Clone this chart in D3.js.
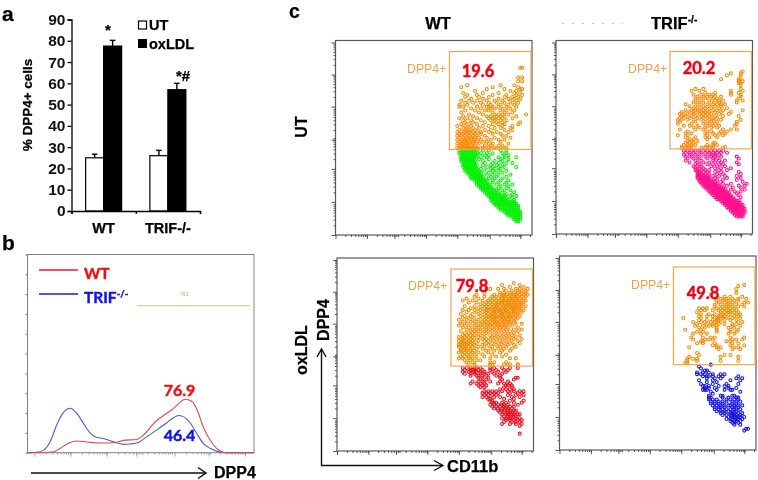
<!DOCTYPE html>
<html><head><meta charset="utf-8">
<script src="https://cdn.jsdelivr.net/npm/d3@7"></script>
<style>
html,body{margin:0;padding:0;background:#fff}
svg{display:block;filter:blur(0.3px)}
text{font-family:"Liberation Sans",Arial,sans-serif}
.num{font-family:Lato,"Open Sans",sans-serif;font-weight:700;stroke-width:.45px;paint-order:stroke}
.b{stroke:#000;stroke-width:.25px}
</style></head><body>
<svg id="c" width="758" height="480"></svg>
<script>
// ---------- panel a ----------
const barGroups=["WT","TRIF-/-"];
const barSeries=["UT","oxLDL"];
const utValues=[25,26];
const oxldlValues=[77.5,57];
const utErrors=[26.7,28.5];
const oxldlErrors=[80.2,60];
const barTicks=[0,10,20,30,40,50,60,70,80,90];
// ---------- panel b (channel, count) ----------
const histRedX=[0,5.6,11.5,14.4,17.4,21.8,26.2,32,38,42.4,48.2,51.9,56.3,60.7,64.4,67.4,69.6,72.5,74.7,77.6,80.6,83.5,87.9,100];
const histRedY=[0,0,.5,2.2,4.4,5.9,5.4,4.9,5,6.2,6.7,9.7,15.5,19.3,22.2,25.5,27,26,22.2,13,6.4,2.2,0,0];
const histBlueX=[0,4.1,7.1,10,12.9,15.9,18.8,21.8,24.7,27.6,30.6,33.5,36.5,39.4,42.4,45.3,49,52.6,57,61.5,64.4,66.6,68.8,71.8,74.7,77.6,80.6,83.5,87.9,100];
const histBlueY=[0,.2,1.3,5.5,14,20.3,22.4,19.8,14.8,10,7.7,7.2,6,5,4.2,4.4,5.2,8,11.4,15.1,17.6,18.8,18.2,15.1,9.7,4.7,2.2,.8,0,0];
const histYTicks=[0,10,20,30,40,50,60,70,80,90,100];
const histXDecades=[3,19,35,48,65,80,96];
// ---------- panel c ticks ----------
const flowXDecades=[0,16,30,46,62,78.5,94];
const flowYDecades=[0,17,34,49,66,82.5,99];
const flowMinor=[5,7.9,10,11.6,12.9,14,15,15.8];
// ---------- panel c events: each row is [DPP4 channel, CD11b channels...] ----------
const wtUtHigh=[[86,94,95],[81,93,95],[79,93,95],[77,67,84,91],[76,64,80,93],[75,77,86,94,95],[74,71,89,92],[73,65,75,83,91,94],[72,67,72,80,87,92,95],[71,66,73,78,86,90,93],[70,69,75,83,88,91,94],[69,64,68,72,77,81,85,89,92],[68,66,70,74,78,82,86,90,93],[67,63,67,75,79,84,88,91],[66,63,65,72,77,78,80,83,87,92],[65,69,74,79,81,85,89],[64,66,71,76,78,84,87,91],[63,64,73,80,86,90],[62,68,75,81,83,85,88,97],[61,65,70,77,79,82,84,86,92],[60,63,67,72,78,80,81,83,85,90],[59,65,69,74,79,81,84,87],[58,66,70,76,82,85,94],[57,64,68,72,80,83,86,93],[56,62,66,69,75,78,85,90],[55,65,67,70,73,81,84,89],[54,63,66,68,71,76,79,86,90],[53,62,64,66,68,70,72,74,78,82,88],[52,63,65,67,69,71,74,80,84],[51,62,64,66,68,70,72,76,85,87],[50,63,65,67,69,71,73,77,81,89],[49,62,64,66,67,69,71,74,79,83,86],[48,63,65,66,68,70,72,75,77,84],[47,62,64,65,67,68,70,73,78,80,88],[46,63,64,66,67,69,71,76,79,83,85],[45,62,64,65,67,68,70,72,75,78,81,84,87],[44.6,63,64,65,66,67,68,69,70,71,72,74,76,79,82,86]];
const wtUtLow=[[43.5,63,64,65,66,67,68,69,70,71,72,75,78,84,87],[42,63,64,65,66,67,68,69,70,71,72,74,77,80,85,87],[41,64,65,66,67,68,69,70,71,72,76,78,86,88],[40,64,65,66,67,68,69,70,71,74,77,83,86,92],[39,64,65,66,67,68,69,70,73,78,84,88],[38,64,65,66,67,68,69,70,71,75,81,85],[37,65,66,67,68,69,70,71,76,80,83,87,90],[36,65,66,67,68,69,70,71,72,75,79,82,85],[35,65,66,67,68,69,70,71,77,80,83,86,92],[34,66,67,68,69,70,71,72,74,79,81,84],[33,66,67,68,69,70,71,72,73,76,80,83,87],[32,67,68,69,70,71,72,73,74,78,81,85],[31,68,69,70,71,72,73,74,77,80,83,89],[30,69,70,71,72,73,74,75,79,82,87],[29,69,70,71,72,73,74,75,78,81,85],[28,71,72,73,74,75,76,77,80,84,88],[27,72,73,74,75,76,77,80,83,87],[26,72,73,74,75,76,77,78,82,86,90],[25,73,74,75,76,77,78,79,84,88],[24,74,75,76,77,78,79,80,83,87],[23,75,76,77,78,79,80,81,82,85,89],[22,76,77,78,79,80,81,82,83,86,91],[21,77,78,79,80,81,82,83,84,87,90],[20,78,79,80,81,82,83,84,85,86,89,92],[19,79,80,81,82,83,84,85,86,87,90],[18,79,80,81,82,83,84,85,86,87,88,91],[17,80,81,82,83,84,85,86,87,88,89,90,91],[16,81,82,83,84,85,86,87,88,89,90,91,92],[15,82,83,84,85,86,87,88,89,90,91,92,93],[14,83,84,85,86,87,88,89,90,91,92,93],[13,84,85,86,87,88,89,90,91,92,93],[12,86,87,88,89,90,91,92,93,94],[11,87,88,89,90,91,92,93,94],[10,88,89,90,91,92,93,94],[9,90,91,92,93,94],[8,91,92,93,94],[7,92,93]];
const trifUtHigh=[[84,95],[83,89,94],[82,87,94],[80,84,93,94],[79,93,95],[78,93,94],[77,94],[75,71,75,94],[74,69,73,89,95],[73,76,81,89,93],[72,70,74,78,80,89,94],[71,72,75,77,79,81,84,94],[70,71,73,76,80,82,93],[69,71,74,78,81,83,85,92,95],[68,70,72,75,79,83,92],[67,66,73,77,80,82,84,86],[66,68,71,75,78,81,84],[65,70,72,74,76,79,83,87],[64,66,69,71,73,75,77,80,82,85,95],[63,64,68,70,72,74,76,78,81,84,89],[62,63,65,67,70,73,75,77,79,83,88],[61,64,66,69,71,74,76,78,81,85,93],[60,63,65,68,72,75,77,80,82],[59,62,64,67,70,74,78,80,84,94],[58,63,71,76,79,82,92],[57,62,69,75,78,81,92],[56,65,68,72,77,80,83,91],[55,70,73,76,79,82],[54,63,71,75,85,89,92],[53,67,77,79,84,87],[52,66,69,76,80,83,86],[51,62,67,77,81,85],[50,66,71,76,78,82],[49,68,70,77],[48,67,69,72],[47,66,68,70,80,81],[46,65,67,69,71,77,80,82],[45,64,67,69,76,78,80,86],[44.6,64,66,68,74,76,78,80,85]];
const trifUtLow=[[43,65,67,69,71,73,75,77,79,81,83,85],[42,66,68,70,73,76,78,80,82,84,87],[41,65,68,71,74,78,80,81,83],[40,66,69,72,76,79,81,84,92],[39,67,70,73,77,80,82,93],[38,66,71,74,80,83,86],[37,68,72,75,78,81,84,92],[36,71,73,77,80,83,85,93],[35,70,72,74,79,82,86],[34,71,73,75,81,84,89],[33,71,72,74,76,78,83,87],[32,72,73,75,77,81,84,93],[31,72,73,74,76,78,82,85,94],[30,72,73,74,75,76,77,80,83,86,92],[29,72,73,74,75,76,77,78,81,87,94],[28,73,74,75,76,77,78,79,82,85,92],[27,73,74,75,76,77,78,79,80,81,84,95],[26,74,75,76,77,78,79,80,81,82,85,89,97],[25,75,76,77,78,79,80,81,82,83,87,93,96],[24,76,77,78,79,80,81,82,83,84,85,90,94],[23,77,78,79,80,81,82,83,84,85,86,89,96],[22,78,79,80,81,82,83,84,85,86,87,91,94],[21,79,80,81,82,83,84,85,86,87,88,92],[20,80,81,82,83,84,85,86,87,88,89,93],[19,81,82,83,84,85,86,87,88,89,90,94],[18,82,83,84,85,86,87,88,89,90,91],[17,84,85,86,87,88,89,90,91,92,93],[16,85,86,87,88,89,90,91,92,93,94],[15,86,87,88,89,90,91,92,93,94,95],[14,87,88,89,90,91,92,93,94,95],[13,88,89,90,91,92,93,94,95,96],[12,89,90,91,92,93,94,95,96],[11,90,91,92,93,94,95,96],[10,91,92,93,94,95],[9,92,93,94,95]];
const wtOxHigh=[[87,90],[86,84,93],[85,88,95],[84,76,78,82,85,91,93,97],[83,86,89,92,94,96],[82,75,83,85,88,90,92,94,96],[81,71,80,83,85,86,88,90,91,93,95,97],[80,70,75,79,81,84,85,87,89,91,92,94,96],[79,66,72,78,80,82,84,86,88,89,91,93,95],[78,64,69,74,77,79,81,83,84,86,87,89,91,92,94,96],[77,67,71,76,78,80,82,84,85,87,89,90,92,93,95],[76,73,75,77,79,81,82,84,86,87,88,90,91,93,94],[75,65,70,74,76,78,80,81,83,85,86,88,89,91,92,94,96],[74,68,72,75,77,79,81,82,84,85,87,89,90,92,93],[73,64,67,70,73,76,77,79,80,82,83,85,86,88,90,91,93,95],[72,66,71,74,76,78,80,81,83,84,86,87,89,90,92,94],[71,63,69,72,75,77,79,80,82,84,85,87,88,90,92],[70,65,68,73,76,78,79,81,83,84,86,88,89,91,93],[69,64,67,70,74,76,78,80,81,83,85,86,88,90,92],[68,62,66,69,72,75,77,79,80,82,84,85,87,89,91],[67,64,68,71,74,76,78,80,81,83,85,87,88,90],[66,63,66,70,73,75,77,79,81,82,84,86,88,91,94],[65,62,65,68,71,73,75,77,78,80,82,84,86,89],[64,64,67,70,72,74,76,79,81,83,85,87,92],[63,66,69,71,73,76,78,80,83,86,90,94],[62,63,68,70,72,75,77,79,82,85,88,92],[61,65,67,69,71,74,76,81,84,87,90],[60,64,66,68,70,73,78,80,83,86,89,93],[59,62,65,67,69,72,75,79,82,85,88,91],[58,63,64,66,68,70,74,76,78,81,84,87,90,94],[57,62,64,65,67,69,72,75,77,80,83,86,89,92],[56,63,64,66,67,69,71,76,79,82,85,88,93],[55,62,63,65,66,68,70,74,77,81,84,87,90],[54,62,64,65,67,69,72,75,79,83,86,91],[53,63,65,66,68,71,74,78,82,85,89],[52,63,64,66,68,70,76,80,84,88],[51,62,65,67,69,72,77,83],[50,64,66,68,70,74,79,86],[49,63,65,67,71,75,81,84],[48,62,64,67,69,78,88,91],[47,65,68,71,73],[46,66,69,78,80,86],[45,67,70,78,85,88,92],[44.6,70,78,79,87,92]];
const wtOxLow=[[43,64,66,68,70,71,73,78,80,84,88,92],[42,65,68,69,70,72,74,78,81,85,87],[41,64,67,69,70,71,73,75,79,82,86],[40,65,68,70,73,75,77,80,84],[39,68,71,72,74,76,81,83],[38,72,74,77,83,91,92],[37,73,76,84,90],[36,69,72,74,75,78,83,87],[35,68,71,73,75,82,85,88],[34,72,74,76,86,87,89],[33,73,75,85,89],[32,83,86,88,90],[31,75,77,79,81,84,87,90,93,95],[30,74,76,78,80,82,88,92,94],[29,75,77,79,81,87,91,95],[28,74,76,80,83,89,93],[27,77,78,85,90],[26,78,79,88,95],[25,79,80,81,84,86,90,94],[24,78,80,82,84,85,87,92],[23,79,81,83,85,86,88,90],[22,80,82,84,86,87,89],[21,82,84,85,87,88,90,91],[20,83,85,87,88,89,91],[19,84,86,87,89,90,92,93],[18,85,87,88,90,91],[17,84,86,88,89,91,93],[16,86,88,90,92,94],[15,85,89,91,93],[14,84,88,91,94],[13,93],[9,93]];
const trifOxHigh=[[85,94],[84.5,91],[83,90],[81,90],[80,77],[79,84,87,93],[78,82,84,85,88,91,95],[77,80,83,86,89,91],[76,81,84,86,88,94,96],[75,79,82,85,87,90,93],[74,79,83,85,86,88,91,94],[73,71,73,75,80,82,84,87,89],[72,72,74,78,81,83,85,86,88,90],[71,70,82,84,86,87,89,91],[70,72,76,79,82,85,87,90,92],[69,71,75,78,81,83,84,89,91],[68,63,72,80,81,83,86,88,92],[67,71,75,78,80,81,84,87,90],[66,68,72,74,77,79,80,82,91,93],[65,70,75,78,81,84,88,90],[64,69,73,76,78,80,88,92],[63,71,74,80,86,89],[62,64,72,80,87,91],[61,70,73,80,87,90],[60,68,72,75,86,89],[58,67,73,77,79,87,94],[57,68,74,76,78,88,90,93],[56,72,73,85,87],[55,70,73,79,88,91],[54,78,80,87,94],[53,66,80,82,89,91],[52,81,88,92],[50,70],[49,71,84,87],[48,66,82,91],[47,65,68,70],[46,65,70,82,91],[45,64,65]];
const trifOxLow=[[44,77],[43,71],[42,72],[41,74,75],[40,70,73,76],[39,70,72,74,78,82,84],[38,73,75,76,78,81,83,91],[37,75,79,82,90,93],[36,71,78,87,92],[35,75,80],[34,72,78,85,91],[33,73,74,76,81,84,86],[32,74,76,79,86,90],[31,73,74,75,80,84,87,88],[30,77,92],[29,78],[28,76,82,83,88,89],[27,76,77,83,86,90,91],[26,76,78,80,85,87,89,91],[25,77,79,81,83,85,88,90,92],[24,77,79,81,83,88,90],[23,78,80,82,84,86,87,89,91,93],[22,79,81,82,84,88,89,91],[21,79,81,83,85,87,89,90,92],[20,80,82,84,86,88,90],[19,82,84,87,88,89,91,93],[18,83,85,87,88,89,90,92],[17,86,88,89,90,91,92,94],[16,85,87,88,90,91,93],[15,87,89,90,92],[14,88,89,91],[13,89,92],[11,95,96],[10,94]];
const gateCuts=[58,44];

const svg=d3.select("#c");
const BLACK="#000", ORANGE="#f88a00", GATE="#f4a64c";

function label(x,y,t,size,opt={}){
  const n=svg.append("text").attr("x",x).attr("y",y).attr("font-size",size).text(t);
  if(opt.bold)n.attr("font-weight",700).attr("class","b");
  if(opt.cls)n.attr("class",opt.cls);
  if(opt.fill)n.attr("fill",opt.fill);
  if(opt.cls==="num")n.attr("stroke",opt.fill);
  if(opt.anchor)n.attr("text-anchor",opt.anchor);
  if(opt.rot)n.attr("transform",`rotate(-90 ${x} ${y})`);
  return n;
}
function sup(n,t,size){
  n.append("tspan").attr("dy",-size*.38).attr("font-size",size*.62).text(t);
}
function arrow(points,w=1.4){
  svg.append("path").attr("d",d3.line()(points)).attr("fill","none").attr("stroke","#111").attr("stroke-width",w).attr("stroke-linejoin","miter");
}

// panel letters
label(2,21,"a",21,{bold:1});
label(2,250,"b",21,{bold:1});
label(289,17.5,"c",19.5,{bold:1});

// ---------- a: bars ----------
{
  const yS=d3.scaleLinear().domain([0,90]).range([211,19.5]);
  const x0=d3.scaleBand().domain(barGroups).range([71.5,200]).paddingInner(0.44).paddingOuter(0.22);
  const x1=d3.scaleBand().domain(barSeries).range([0,x0.bandwidth()]);
  const g=svg.append("g");
  const rows=[[barSeries[0],utValues,utErrors],[barSeries[1],oxldlValues,oxldlErrors]];
  rows.forEach(([s,vals,errs])=>{
    barGroups.forEach((k,i)=>{
      const cx=x0(k)+x1(s)+x1.bandwidth()/2;
      g.append("line").attr("x1",cx).attr("x2",cx).attr("y1",yS(vals[i])).attr("y2",yS(errs[i])).attr("stroke",BLACK).attr("stroke-width",1.4);
      g.append("line").attr("x1",cx-2.8).attr("x2",cx+2.8).attr("y1",yS(errs[i])).attr("y2",yS(errs[i])).attr("stroke",BLACK).attr("stroke-width",1.4);
      g.append("rect").attr("x",x0(k)+x1(s)).attr("width",x1.bandwidth()).attr("y",yS(vals[i])).attr("height",yS(0)-yS(vals[i]))
        .attr("fill",s==="UT"?"#fff":"#000").attr("stroke",BLACK).attr("stroke-width",1.2);
    });
  });
  const ax=svg.append("g").attr("transform","translate(71.5,0)").call(d3.axisLeft(yS).tickValues(barTicks).tickSize(4));
  ax.selectAll("text").attr("font-size",15.5).attr("font-weight",700).attr("font-family","'Liberation Sans'").attr("fill","#111").attr("dx",1);
  ax.selectAll("line,path").attr("stroke",BLACK).attr("stroke-width",1.3);
  const bx=svg.append("g").attr("transform","translate(0,211)").call(d3.axisBottom(d3.scaleLinear().domain([0,2]).range([71.5,200])).tickValues([0,1,2]).tickSize(3).tickFormat(""));
  bx.selectAll("line,path").attr("stroke",BLACK).attr("stroke-width",1.3);
  barGroups.forEach(k=>label(x0(k)+x0.bandwidth()/2,233,k,14.5,{bold:1,anchor:"middle"}));
  svg.append("rect").attr("x",138.5).attr("y",21).attr("width",8).attr("height",8).attr("fill","#fff").attr("stroke",BLACK).attr("stroke-width",1.2);
  svg.append("rect").attr("x",138).attr("y",39).attr("width",9).attr("height",9).attr("fill","#000");
  label(149,30,"UT",14.5,{bold:1});
  label(149,49,"oxLDL",14.5,{bold:1});
  label(108,35,"*",15,{bold:1,anchor:"middle"});
  label(183,81,"*#",15,{bold:1,anchor:"middle"});
  label(32,105,"% DPP4+ cells",13.5,{bold:1,anchor:"middle",rot:1});
}

// ---------- b: histogram ----------
{
  const xS=d3.scaleLinear().domain([0,100]).range([27.5,254]);
  const yS=d3.scaleLinear().domain([0,100]).range([452.7,254.5]);
  svg.append("rect").attr("x",27.5).attr("y",254.5).attr("width",226.5).attr("height",198.2).attr("fill","#fff").attr("stroke","#808080").attr("stroke-width",1);
  const ay=svg.append("g").attr("transform","translate(27.5,0)").call(d3.axisLeft(yS).tickValues(histYTicks).tickSize(2).tickFormat(""));
  ay.selectAll("line").attr("stroke","#777");ay.select("path").remove();
  const maj=svg.append("g").attr("transform","translate(0,452.7)").call(d3.axisBottom(xS).tickValues(histXDecades).tickSize(4).tickFormat(""));
  const mi=svg.append("g").attr("transform","translate(0,452.7)").call(d3.axisBottom(xS).tickValues(histXDecades.flatMap(d=>flowMinor.map(m=>d+m)).filter(d=>d<100)).tickSize(2).tickFormat(""));
  [maj,mi].forEach(a=>{a.select("path").remove();a.selectAll("line").attr("stroke","#888").attr("stroke-width",.7);});
  const ln=d3.line().x(d=>xS(d[0])).y(d=>yS(d[1])).curve(d3.curveMonotoneX);
  svg.append("path").attr("d",ln(d3.zip(histBlueX,histBlueY))).attr("fill","none").attr("stroke","#4a5ccf").attr("stroke-width",1.1);
  svg.append("path").attr("d",ln(d3.zip(histRedX,histRedY))).attr("fill","none").attr("stroke","#dc4c4c").attr("stroke-width",1.1);
  svg.append("line").attr("x1",39).attr("x2",78).attr("y1",270).attr("y2",270).attr("stroke","#ee1c25").attr("stroke-width",1.4);
  svg.append("line").attr("x1",39).attr("x2",78).attr("y1",294).attr("y2",294).attr("stroke","#1a1ae0").attr("stroke-width",1.4);
  label(84,278.5,"WT",15.5,{cls:"num",fill:"#f01010"});
  sup(label(84,303,"TRIF",15.5,{cls:"num",fill:"#1010f0"}),"-/-",15.5);
  svg.append("line").attr("x1",137).attr("x2",250).attr("y1",305.7).attr("y2",305.7).attr("stroke","#e8bd70").attr("stroke-width",1.1);
  label(185,296,"R1",6,{fill:"#eda544",anchor:"middle"});
  label(179.5,396,"76.9",16,{cls:"num",fill:"#f01010",anchor:"middle"});
  label(179.5,441,"46.4",16,{cls:"num",fill:"#1010f0",anchor:"middle"});
  arrow([[31,473],[205,473]],1.5);
  arrow([[198,467.5],[206,473],[198,478.5]],1.5);
  label(214,478,"DPP4",16,{bold:1});
}

// ---------- c: flow plots ----------
function flow(p){
  const xS=d3.scaleLinear().domain([0,100]).range([p.l,p.r]);
  const yS=d3.scaleLinear().domain([0,100]).range([p.b,p.t]);
  const g=svg.append("g");
  g.append("rect").attr("x",p.l).attr("y",p.t).attr("width",p.r-p.l).attr("height",p.b-p.t).attr("fill","#fff").attr("stroke","#5a5a5a").attr("stroke-width",1.2);
  [[flowXDecades,"b"],[flowYDecades,"l"]].forEach(([dec,side])=>{
    const scale=side==="b"?xS:yS, mk=side==="b"?d3.axisBottom:d3.axisLeft;
    const tr=side==="b"?`translate(0,${p.b})`:`translate(${p.l},0)`;
    const minor=dec.flatMap(d=>flowMinor.map(m=>d+m)).filter(d=>d<=100);
    const a1=g.append("g").attr("transform",tr).call(mk(scale).tickValues(dec).tickSize(4).tickFormat(""));
    const a2=g.append("g").attr("transform",tr).call(mk(scale).tickValues(minor).tickSize(2).tickFormat(""));
    [a1,a2].forEach(a=>{a.select("path").remove();a.selectAll("line").attr("stroke","#444").attr("stroke-width",.9);});
  });
  const pts=rows=>rows.flatMap(r=>r.slice(1).map(x=>[x,r[0]]));
  const dots=(rows,col)=>g.append("g").selectAll("circle").data(pts(rows)).join("circle")
    .attr("cx",d=>xS(d[0])).attr("cy",d=>yS(d[1])).attr("r",1.5).attr("fill","none").attr("stroke",col).attr("stroke-width",1.05);
  dots(p.low,p.col); dots(p.high,ORANGE);
  g.append("rect").attr("x",xS(gateCuts[0])).attr("y",p.gateTop).attr("width",p.r-1-xS(gateCuts[0])).attr("height",yS(gateCuts[1])-p.gateTop)
    .attr("fill","none").attr("stroke",GATE).attr("stroke-width",1.2);
  label(p.dx,p.dy,"DPP4+",12.3,{fill:"#f5a04a"});
  label(p.nx,p.ny,p.pct,16.5,{cls:"num",fill:"#f50010",anchor:"middle"});
}
flow({l:335.5,r:532,t:40.5,b:235,gateTop:51.5,low:wtUtLow,high:wtUtHigh,col:"#08f008",dx:407,dy:73,nx:478,ny:77,pct:"19.6"});
flow({l:556,r:752.5,t:40.5,b:234,gateTop:51.5,low:trifUtLow,high:trifUtHigh,col:"#ff1090",dx:628,dy:73,nx:699,ny:74,pct:"20.2"});
flow({l:337,r:533.5,t:258,b:451,gateTop:269,low:wtOxLow,high:wtOxHigh,col:"#ee1020",dx:408,dy:290,nx:472,ny:292,pct:"79.8"});
flow({l:559.5,r:756,t:256,b:450,gateTop:267,low:trifOxLow,high:trifOxHigh,col:"#1414e8",dx:631,dy:289,nx:703,ny:299,pct:"49.8"});

label(438,29,"WT",16.5,{bold:1,anchor:"middle"});
sup(label(651,29,"TRIF",16.5,{bold:1}),"-/-",16.5);
svg.append("line").attr("x1",562).attr("x2",623).attr("y1",23.5).attr("y2",23.5).attr("stroke","#aaa").attr("stroke-width",.8).attr("stroke-dasharray","2 8");
label(307,127,"UT",16,{bold:1,anchor:"middle",rot:1});
label(307,350,"oxLDL",16,{bold:1,anchor:"middle",rot:1});
label(329,320,"DPP4",16,{bold:1,anchor:"middle",rot:1});
arrow([[321.5,349],[321.5,465.5],[442,465.5]],1.4);
arrow([[317,357],[321.5,349],[326,357]],1.4);
arrow([[434,460.5],[443,465.5],[434,470.5]],1.4);
label(447,472,"CD11b",16.5,{bold:1});
</script>
</body></html>
